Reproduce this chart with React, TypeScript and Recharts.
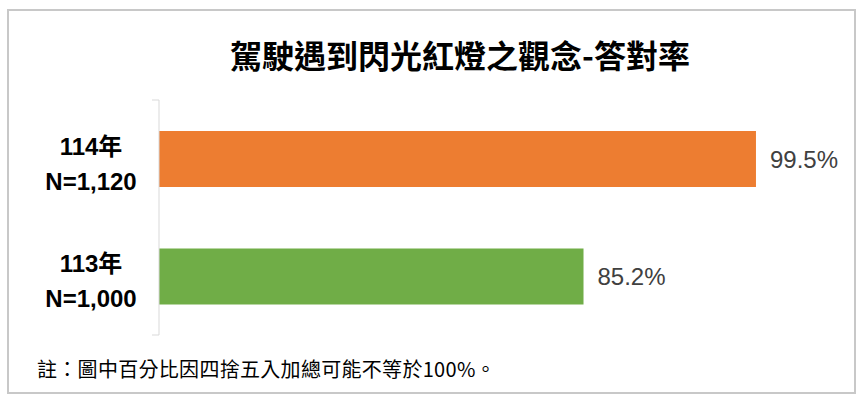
import React from 'react';
import { BarChart, Bar, XAxis, YAxis, Cell, LabelList } from 'recharts';

const yearLabels = ['114年', '113年'];
const sampleLabels = ['N=1,120', 'N=1,000'];
const values = [99.5, 85.2];
const barColors = ['#ED7D31', '#70AD47'];
const axisDomain = [50, 100];
const boundaryTicks = [0, 1, 2];

const data = yearLabels.map((y, i) => ({
  name: y,
  sample: sampleLabels[i],
  value: values[i],
}));

const LATIN = '"Liberation Sans", Arial, "Noto Sans CJK TC", sans-serif';
const CJK = '"Noto Sans CJK TC", "Noto Sans CJK SC", sans-serif';

const CategoryTick = (props: any) => {
  const { x, y, payload, index } = props;
  const row = data[index] || data.find((d) => d.name === payload.value);
  const cx = x - 68;
  return (
    <g>
      <text x={cx} y={y - 12.5} textAnchor="middle" dominantBaseline="central" fontFamily={LATIN} fontWeight="bold" fontSize={24} fill="#000">
        {payload.value}
      </text>
      <text x={cx} y={y + 22.5} textAnchor="middle" dominantBaseline="central" fontFamily={LATIN} fontWeight="bold" fontSize={24} fill="#000">
        {row ? row.sample : ''}
      </text>
    </g>
  );
};

const EmptyTick = () => <g />;

export default function App() {
  return (
    <div style={{ position: 'absolute', left: 0, top: 0, width: 864, height: 402, background: '#fff', overflow: 'hidden' }}>
      <div style={{ position: 'absolute', left: 7, top: 9, width: 849, height: 385, boxSizing: 'border-box', border: '2px solid #c8c8c8' }} />
      <div style={{ position: 'absolute', left: 160, width: 600, top: 38, fontFamily: CJK, fontWeight: 700, fontSize: 32, lineHeight: '32px', textAlign: 'center', color: '#000', whiteSpace: 'nowrap' }}>
        駕駛遇到閃光紅燈之觀念-答對率
      </div>
      <div style={{ position: 'absolute', left: 37, top: 359, fontFamily: CJK, fontSize: 20, lineHeight: '20px', letterSpacing: 0.3, color: '#000', whiteSpace: 'nowrap' }}>
        註：圖中百分比因四捨五入加總可能不等於100%。
      </div>
      <div style={{ position: 'absolute', left: 0, top: 0 }}>
        <BarChart width={864} height={402} data={data} layout="vertical" margin={{ top: 100, right: 102, bottom: 67, left: 9 }}>
          <XAxis type="number" domain={axisDomain} hide />
          <YAxis
            yAxisId="cat"
            type="category"
            dataKey="name"
            width={150}
            axisLine={{ stroke: '#d9d9d9' }}
            tickLine={false}
            tickSize={0}
            tickMargin={0}
            tick={<CategoryTick />}
            interval={0}
          />
          <YAxis
            yAxisId="tk"
            orientation="left"
            mirror
            type="number"
            domain={[0, 2]}
            ticks={boundaryTicks}
            tick={<EmptyTick />}
            tickSize={-7}
            tickLine={{ stroke: '#d9d9d9', strokeWidth: 1 }}
            axisLine={false}
          />
          <Bar dataKey="value" yAxisId="cat" barSize={56} isAnimationActive={false}>
            {data.map((d, i) => (
              <Cell key={d.name} fill={barColors[i]} />
            ))}
            <LabelList dataKey="value" position="right" offset={14} formatter={(v: any) => `${v}%`} fill="#404040" fontSize={24} fontFamily={LATIN} />
          </Bar>
        </BarChart>
      </div>
    </div>
  );
}
